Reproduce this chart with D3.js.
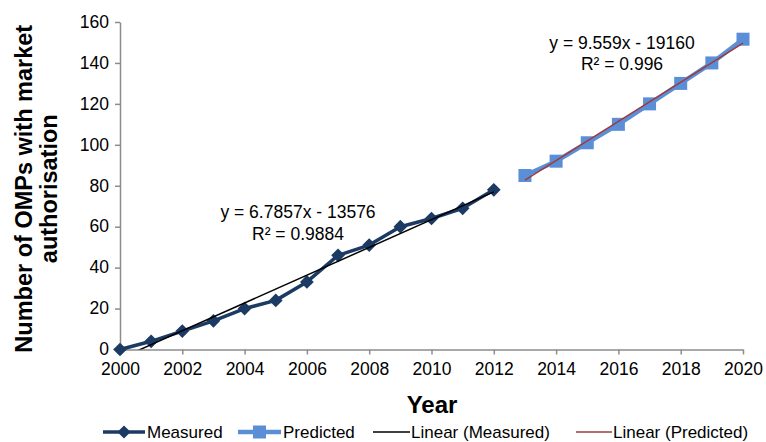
<!DOCTYPE html>
<html>
<head>
<meta charset="utf-8">
<script src="https://cdn.jsdelivr.net/npm/d3@7"></script>
<style>
  html, body { margin: 0; padding: 0; background: #fff; }
  svg { display: block; font-family: "Liberation Sans", Arial, Helvetica, sans-serif; }
</style>
</head>
<body>
<svg id="chart" width="766" height="442"></svg>
<script>
// Orphan medicinal products with market authorisation, measured and predicted
const measuredYears = [2000, 2001, 2002, 2003, 2004, 2005, 2006, 2007, 2008, 2009, 2010, 2011, 2012];
const measuredValues = [0, 4, 9, 14, 20, 24, 33, 46, 51, 60, 64, 69, 78];
const predictedYears = [2013, 2014, 2015, 2016, 2017, 2018, 2019, 2020];
const predictedValues = [85, 92, 101, 110, 120, 130, 140, 151.6];
const xTicks = [2000, 2002, 2004, 2006, 2008, 2010, 2012, 2014, 2016, 2018, 2020];
const yTicks = [0, 20, 40, 60, 80, 100, 120, 140, 160];
const measuredEquation = ["y = 6.7857x - 13576", "R\u00B2 = 0.9884"];
const predictedEquation = ["y = 9.559x - 19160", "R\u00B2 = 0.996"];
const legendLabels = ["Measured", "Predicted", "Linear (Measured)", "Linear (Predicted)"];

const navy = "#1b3a64";
const lightBlue = "#5a8fd8";
const trendRed = "#a03a3a";
const axisGrey = "#8c8c8c";

const svg = d3.select("#chart");
const plot = { left: 120, right: 743, top: 22, bottom: 349.5 };

const x = d3.scaleLinear().domain([2000, 2020]).range([plot.left, plot.right]);
const y = d3.scaleLinear().domain([0, 160]).range([plot.bottom, plot.top]);

// least-squares fit for a trendline
function fit(xs, ys) {
  const n = xs.length;
  const mx = d3.mean(xs), my = d3.mean(ys);
  let sxy = 0, sxx = 0;
  for (let i = 0; i < n; i++) { sxy += (xs[i] - mx) * (ys[i] - my); sxx += (xs[i] - mx) ** 2; }
  const slope = sxy / sxx;
  return { slope, intercept: my - slope * mx };
}

svg.append("defs").append("clipPath").attr("id", "plotClip")
  .append("rect")
  .attr("x", plot.left).attr("y", plot.top - 10)
  .attr("width", plot.right - plot.left + 20).attr("height", plot.bottom - plot.top + 10);

// axes
const yAxis = svg.append("g")
  .attr("transform", `translate(${plot.left},0)`)
  .call(d3.axisLeft(y).tickValues(yTicks).tickSize(5).tickPadding(6).tickSizeOuter(0));
const xAxis = svg.append("g")
  .attr("transform", `translate(0,${plot.bottom})`)
  .call(d3.axisBottom(x).tickValues(xTicks).tickFormat(d3.format("d")).tickSize(5).tickPadding(8).tickSizeOuter(0));
[yAxis, xAxis].forEach(g => {
  g.selectAll("path.domain").attr("stroke", axisGrey).attr("stroke-width", 1.5);
  g.selectAll(".tick line").attr("stroke", axisGrey).attr("stroke-width", 1.5);
  g.selectAll(".tick text").attr("fill", "#000").style("font-size", "17.5px")
    .style("font-family", "'Liberation Sans', Arial, sans-serif");
});
yAxis.selectAll(".tick text").attr("dy", "0.3em");

// axis titles
const yTitle = svg.append("text")
  .attr("transform", `translate(0,${(plot.top + plot.bottom) / 2 + 3}) rotate(-90)`)
  .attr("text-anchor", "middle")
  .style("font-size", "23.5px").style("font-weight", "bold");
yTitle.append("tspan").attr("x", 0).attr("y", 32).text("Number of OMPs with market");
yTitle.append("tspan").attr("x", 0).attr("y", 57).text("authorisation");

svg.append("text")
  .attr("x", 432).attr("y", 413)
  .attr("text-anchor", "middle")
  .style("font-size", "24px").style("font-weight", "bold")
  .text("Year");

const line = d3.line().x(d => x(d[0])).y(d => y(d[1]));
const measured = measuredYears.map((yr, i) => [yr, measuredValues[i]]);
const predicted = predictedYears.map((yr, i) => [yr, predictedValues[i]]);

// measured series
svg.append("path").datum(measured)
  .attr("d", line).attr("fill", "none")
  .attr("stroke", navy).attr("stroke-width", 3.5).attr("stroke-linejoin", "round");
svg.append("g").selectAll("path").data(measured).join("path")
  .attr("transform", d => `translate(${x(d[0])},${y(d[1])})`)
  .attr("d", d3.symbol(d3.symbolDiamond2, 120)())
  .attr("fill", navy);

// predicted series
svg.append("path").datum(predicted)
  .attr("d", line).attr("fill", "none")
  .attr("stroke", lightBlue).attr("stroke-width", 4.5);
svg.append("g").selectAll("rect").data(predicted).join("rect")
  .attr("x", d => x(d[0]) - 6.5).attr("y", d => y(d[1]) - 6.5)
  .attr("width", 13).attr("height", 13)
  .attr("fill", lightBlue);

// trendlines
const fm = fit(measuredYears, measuredValues);
const fp = fit(predictedYears, predictedValues);
const trendM = [measuredYears[0], measuredYears[measuredYears.length - 1]].map(t => [t, fm.intercept + fm.slope * t]);
const trendP = [predictedYears[0], predictedYears[predictedYears.length - 1]].map(t => [t, fp.intercept + fp.slope * t]);
svg.append("path").datum(trendM).attr("clip-path", "url(#plotClip)")
  .attr("d", line).attr("fill", "none").attr("stroke", "#000").attr("stroke-width", 1.5);
svg.append("path").datum(trendP).attr("clip-path", "url(#plotClip)")
  .attr("d", line).attr("fill", "none").attr("stroke", trendRed).attr("stroke-width", 1.5);

// trendline equations
function equation(lines, cx, cy, gap) {
  const t = svg.append("text").attr("text-anchor", "middle").style("font-size", "17.5px");
  lines.forEach((s, i) => t.append("tspan").attr("x", cx).attr("y", cy + i * gap).text(s));
}
equation(measuredEquation, 298, 218, 22);
equation(predictedEquation, 622, 49, 21);

// legend
const legendY = 432;
const legend = svg.append("g").style("font-size", "17px");
const items = [
  { x0: 103, x1: 145, tx: 147, color: navy, w: 3.5, mark: "diamond" },
  { x0: 238, x1: 281, tx: 283, color: lightBlue, w: 4.5, mark: "square" },
  { x0: 373, x1: 410, tx: 411, color: "#000", w: 1.5, mark: null },
  { x0: 576, x1: 612, tx: 613, color: trendRed, w: 1.5, mark: null }
];
items.forEach((it, i) => {
  legend.append("line")
    .attr("x1", it.x0).attr("x2", it.x1).attr("y1", legendY).attr("y2", legendY)
    .attr("stroke", it.color).attr("stroke-width", it.w);
  const cx = (it.x0 + it.x1) / 2;
  if (it.mark === "diamond") {
    legend.append("path").attr("transform", `translate(${cx},${legendY})`)
      .attr("d", d3.symbol(d3.symbolDiamond2, 110)()).attr("fill", it.color);
  } else if (it.mark === "square") {
    legend.append("rect").attr("x", cx - 6.5).attr("y", legendY - 6.5)
      .attr("width", 13).attr("height", 13).attr("fill", it.color);
  }
  legend.append("text").attr("x", it.tx).attr("y", legendY + 6).text(legendLabels[i]);
});
</script>
</body>
</html>
